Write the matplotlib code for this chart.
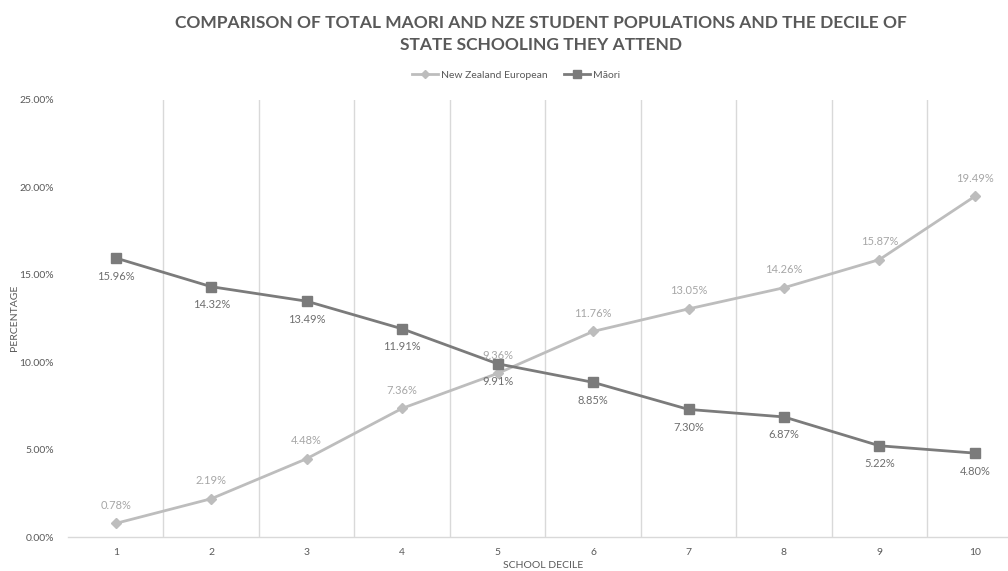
import numpy as np
import matplotlib.pyplot as plt

deciles = [1, 2, 3, 4, 5, 6, 7, 8, 9, 10]
nze = [0.78, 2.19, 4.48, 7.36, 9.36, 11.76, 13.05, 14.26, 15.87, 19.49]
maori = [15.96, 14.32, 13.49, 11.91, 9.91, 8.85, 7.30, 6.87, 5.22, 4.80]

plt.rcParams['font.family'] = ['Lato', 'DejaVu Sans']

fig = plt.figure(figsize=(10.08, 5.71), dpi=100)
ax = fig.add_axes([0.0675, 0.0595, 0.947, 0.7654])

x = np.arange(len(deciles))
c_nze = '#bdbdbd'
c_mao = '#7b7b7b'

ax.plot(x, nze, color=c_nze, lw=2.0, marker='D', ms=5, label='New Zealand European', zorder=3)
ax.plot(x, maori, color=c_mao, lw=2.0, marker='s', ms=6.5, label='Māori', zorder=3)

for xi, v in zip(x, nze):
    ax.annotate(f'{v:.2f}%', (xi, v), xytext=(0, 9), textcoords='offset points',
                ha='center', va='bottom', fontsize=8, color='#a6a6a6')
for xi, v in zip(x, maori):
    ax.annotate(f'{v:.2f}%', (xi, v), xytext=(0, -9), textcoords='offset points',
                ha='center', va='top', fontsize=8, color='#6e6e6e')

# category separators
for b in np.arange(0.5, len(deciles) - 1, 1):
    ax.axvline(b, color='#d9d9d9', lw=1, zorder=1)

ax.set_xlim(-0.5, len(deciles) - 0.5)
ax.set_ylim(0, 25)
ax.set_xticks(x)
ax.set_xticklabels([str(d) for d in deciles])
ax.set_yticks([0, 5, 10, 15, 20, 25])
ax.set_yticklabels([f'{t:.2f}%' for t in [0, 5, 10, 15, 20, 25]])
ax.tick_params(axis='both', length=0, labelsize=7.5, colors='#595959', pad=8)
ax.tick_params(axis='y', pad=10)

for s in ['top', 'right', 'left']:
    ax.spines[s].set_visible(False)
ax.spines['bottom'].set_color('#d9d9d9')
ax.spines['bottom'].set_linewidth(1)

fig.text(0.0139, 0.443, 'PERCENTAGE', rotation=90, ha='center', va='center',
         fontsize=7.5, color='#595959')
fig.text(0.539, 0.0088, 'SCHOOL DECILE', ha='center', va='center',
         fontsize=7.5, color='#595959')

fig.text(0.537, 0.941, 'COMPARISON OF TOTAL MAORI AND NZE STUDENT POPULATIONS AND THE DECILE OF\nSTATE SCHOOLING THEY ATTEND',
         ha='center', va='center', fontsize=12.5, fontweight='bold', color='#595959',
         linespacing=1.45)

fig.legend(loc='center', bbox_to_anchor=(0.512, 0.868), ncol=2, frameon=False,
           fontsize=7.5, labelcolor='#595959', handlelength=2.5, columnspacing=1.5,
           handletextpad=0.3, markerscale=0.8)

fig.savefig('out.png', dpi=100)
